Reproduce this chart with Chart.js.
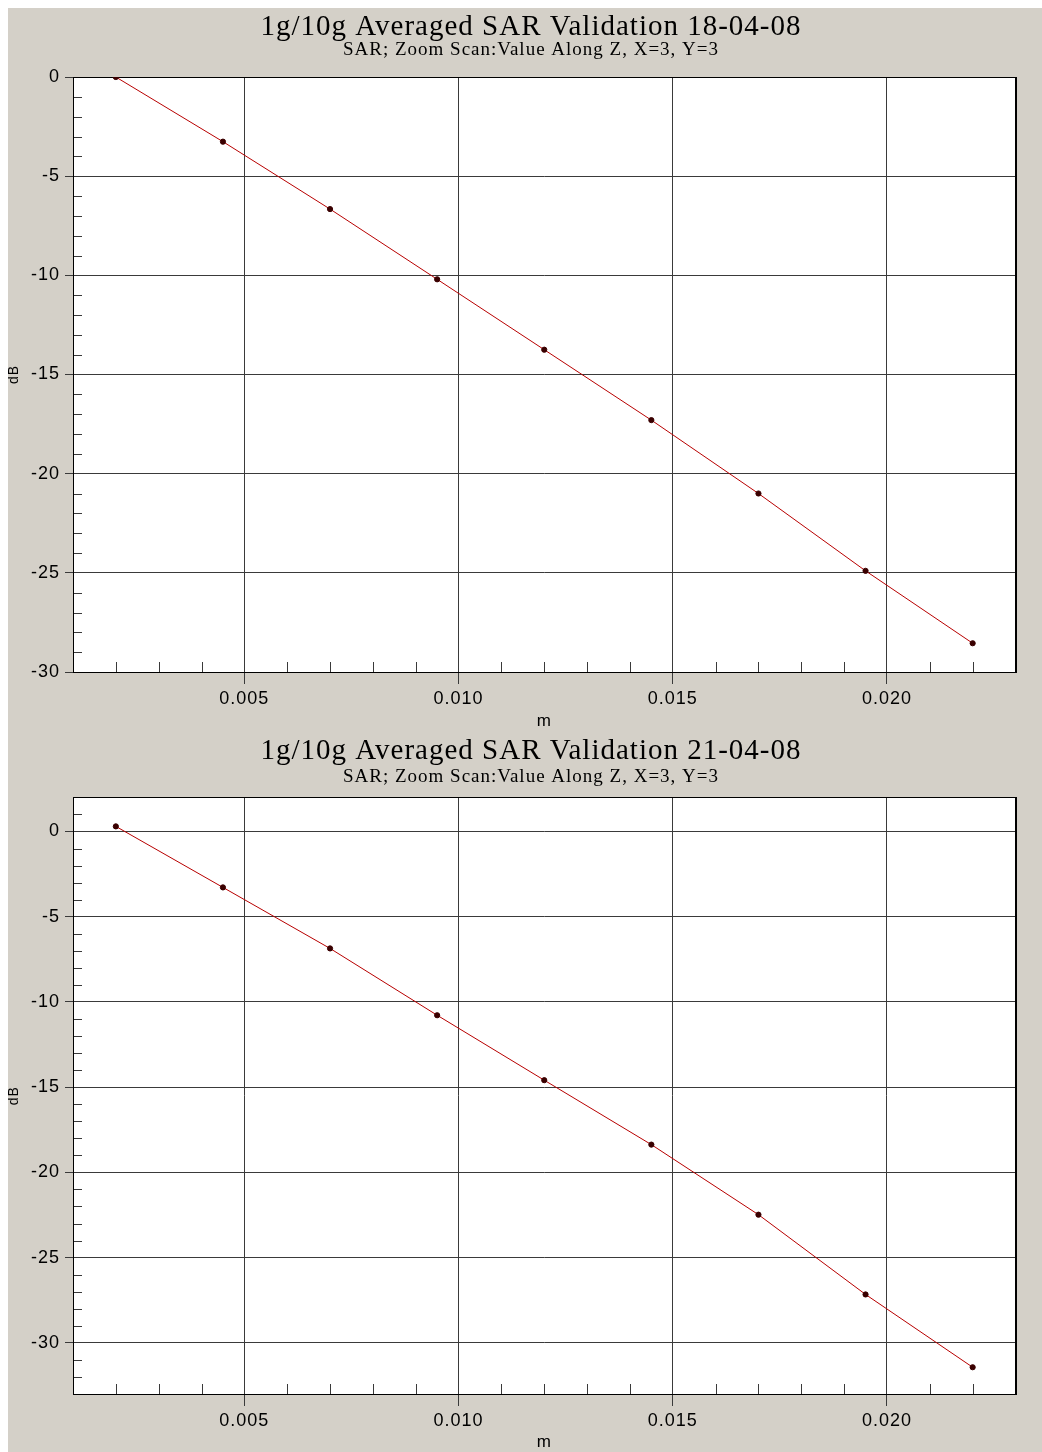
<!DOCTYPE html>
<html><head><meta charset="utf-8">
<script src="https://cdn.jsdelivr.net/npm/chart.js@4.4.0/dist/chart.umd.min.js"></script>
<style>
html,body{margin:0;padding:0;background:#fff;}
#panel{position:absolute;left:8px;top:8px;width:1034px;height:1444px;background:#d4d0c8;}
canvas{position:absolute;left:0;}
#c1{top:0}
#c2{top:722px}
</style></head><body>
<div id="panel"><canvas id="c1" width="1034" height="722"></canvas><canvas id="c2" width="1034" height="722"></canvas></div>
<script>
// ---- data ----
const distanceM = [0.002, 0.0045, 0.007, 0.0095, 0.012, 0.0145, 0.017, 0.0195, 0.022];
const sar180408 = [0, -3.26, -6.66, -10.2, -13.75, -17.3, -21.0, -24.9, -28.55];
const sar210408 = [0.3, -3.28, -6.86, -10.78, -14.59, -18.37, -22.48, -27.16, -31.43];
const xTickValues = [0.005, 0.010, 0.015, 0.020];
const yTickValues = [0, -5, -10, -15, -20, -25, -30];
const xRange = [0.001, 0.023];
const yRange1 = [-30, 0];
const yRange2 = [-33, 2];
const titles = ['1g/10g Averaged SAR Validation 18-04-08', '1g/10g Averaged SAR Validation 21-04-08'];
const subtitleText = 'SAR; Zoom Scan:Value Along Z, X=3, Y=3';
const xAxisLabel = 'm';
const yAxisLabel = 'dB';

// ---- style constants ----
const MINOR_X = 0.001, MINOR_Y = 1;
const GRID = '#3a3a3a';

const spacingPlugin = {
  id: 'spacing',
  beforeDraw(chart) { chart.ctx.letterSpacing = '1px'; },
  afterDraw(chart) { chart.ctx.letterSpacing = '0px'; }
};

const framePlugin = {
  id: 'frameMinor',
  beforeDraw(chart) {
    const {ctx, chartArea: a} = chart;
    ctx.save();
    ctx.fillStyle = '#ffffff';
    ctx.fillRect(a.left, a.top, a.right - a.left, a.bottom - a.top);
    ctx.restore();
  },
  beforeDatasetsDraw(chart) {
    const {ctx, chartArea: a} = chart;
    const xs = chart.scales.x, ys = chart.scales.y;
    ctx.save();
    ctx.strokeStyle = GRID;
    ctx.lineWidth = 1;
    ctx.beginPath();
    const kx0 = Math.ceil(xs.min / MINOR_X - 1e-6), kx1 = Math.floor(xs.max / MINOR_X + 1e-6);
    for (let k = kx0; k <= kx1; k++) {
      if (k % 5 === 0) continue;
      const px = Math.round(xs.getPixelForValue(k * MINOR_X)) + 0.5;
      ctx.moveTo(px, a.bottom);
      ctx.lineTo(px, a.bottom - 10);
    }
    const ky0 = Math.ceil(ys.min / MINOR_Y - 1e-6), ky1 = Math.floor(ys.max / MINOR_Y + 1e-6);
    for (let k = ky0; k <= ky1; k++) {
      if (k % 5 === 0) continue;
      const py = Math.round(ys.getPixelForValue(k * MINOR_Y)) + 0.5;
      ctx.moveTo(a.left, py);
      ctx.lineTo(a.left + 9, py);
    }
    ctx.stroke();
    ctx.strokeStyle = '#000';
    ctx.strokeRect(Math.round(a.left) + 0.5, Math.round(a.top) + 0.5, Math.round(a.right - a.left), Math.round(a.bottom - a.top));
    ctx.restore();
  }
};

function makeChart(id, title, values, yRange, lay) {
  const tickFont = {family: 'Liberation Sans', size: 18};
  return new Chart(document.getElementById(id), {
    type: 'line',
    data: {
      datasets: [{
        data: distanceM.map((x, i) => ({x: x, y: values[i]})),
        xAxisID: 'x', yAxisID: 'y',
        borderColor: '#b80000', borderWidth: 1,
        pointRadius: 2.6, pointBackgroundColor: '#3a0000', pointBorderColor: '#3a0000', pointBorderWidth: 1,
        tension: 0, fill: false
      }]
    },
    options: {
      responsive: false, animation: false,
      layout: {padding: {left: 12, right: 0, top: 0, bottom: 0}},
      plugins: {
        legend: {display: false}, tooltip: {enabled: false},
        title: {display: true, text: title, color: '#000',
          font: {family: 'Liberation Serif', size: 29, weight: 'normal', lineHeight: 1},
          padding: {top: lay.tTop, bottom: 0}},
        subtitle: {display: true, text: subtitleText, color: '#000',
          font: {family: 'Liberation Serif', size: 19, weight: 'normal', lineHeight: 1},
          padding: {top: lay.sTop, bottom: lay.sBottom}}
      },
      scales: {
        x: {
          type: 'linear', position: 'bottom', min: xRange[0], max: xRange[1],
          afterBuildTicks: s => { s.ticks = xTickValues.map(v => ({value: v})); },
          afterFit: s => { s.height = 58; },
          ticks: {font: tickFont, color: '#000', padding: 4, maxRotation: 0, autoSkip: false,
            callback: v => Number(v).toFixed(3)},
          grid: {color: GRID, lineWidth: 1, tickLength: 12, tickColor: GRID},
          border: {color: '#000', width: 1},
          title: {display: true, text: xAxisLabel, color: '#000',
            font: {family: 'Liberation Sans', size: 17}, padding: {top: 0, bottom: lay.mBottom}}
        },
        y: {
          type: 'linear', position: 'left', min: yRange[0], max: yRange[1],
          afterBuildTicks: s => { s.ticks = yTickValues.map(v => ({value: v})); },
          afterFit: s => { s.width = 53; },
          ticks: {font: tickFont, color: '#000', padding: 5, autoSkip: false, callback: v => String(v)},
          grid: {color: GRID, lineWidth: 1, tickLength: 8, tickColor: GRID},
          border: {color: '#000', width: 1},
          title: {display: true, text: yAxisLabel, color: '#000',
            font: {family: 'Liberation Sans', size: 14}, padding: {top: -14.75, bottom: 0}}
        },
        yR: {
          type: 'linear', position: 'right', min: yRange[0], max: yRange[1], display: true,
          ticks: {display: false}, grid: {display: false, drawTicks: false},
          border: {display: true, color: '#000', width: 1},
          afterFit: s => { s.width = 26.5; }
        }
      }
    },
    plugins: [spacingPlugin, framePlugin]
  });
}

makeChart('c1', titles[0], sar180408, yRange1, {tTop: 5.2, sTop: -1.6, sBottom: 17.4, mBottom: -1.7});
makeChart('c2', titles[1], sar210408, yRange2, {tTop: 6.8, sTop: 1.3, sBottom: 11.3, mBottom: -0.7});
</script>
</body></html>
